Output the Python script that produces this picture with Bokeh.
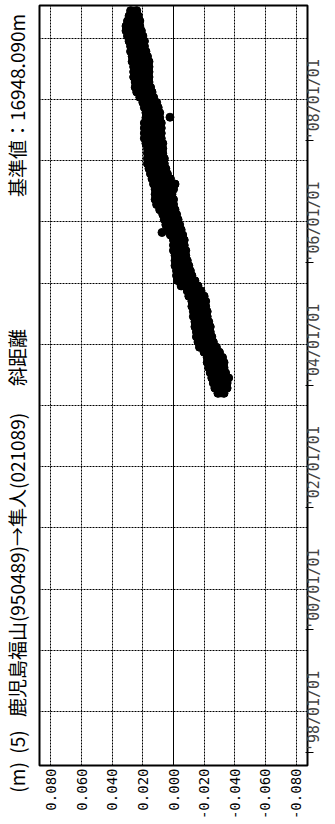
import math
import pandas as pd
from bokeh.plotting import figure
from bokeh.models import Range1d, FixedTicker, NumeralTickFormatter, Span, LinearAxis, ColumnDataSource
from bokeh.embed import file_html
from bokeh.resources import INLINE

# ---- data (slope distance change, mm, monthly envelope) ----
months = pd.period_range("2003-03", "2009-06", freq="M")
dates = months.to_timestamp() + pd.Timedelta(days=14)

hi_mm = [
    -29, -27, -26, -25, -24, -23, -22, -22, -20, -17,                 # 2003 Mar-Dec
    -16, -15, -15, -14, -14, -13, -13, -12, -12, -10, -9, -5,         # 2004
    -3, -2, -2, -1, -1, -1, 0, 0, 0, 2, 4, 5,                          # 2005
    6, 7, 9, 11, 12, 12, 12, 13, 14, 15, 16, 17,                       # 2006
    17, 17, 17, 18, 19, 19, 19, 19, 18, 18, 19, 20,                    # 2007
    22, 24, 25, 25, 26, 26, 26, 27, 27, 28, 28, 29,                    # 2008
    30, 31, 31, 30, 29, 28,                                            # 2009 Jan-Jun
]
lo_mm = [
    -33, -35, -35, -36, -34, -33, -33, -32, -30, -28,
    -26, -25, -24, -24, -23, -22, -22, -21, -21, -20, -18, -16,
    -14, -12, -11, -10, -9, -8, -8, -7, -7, -6, -5, -4,
    -3, -2, -1, 0, 0, 1, 0, -1, 2, 4, 5, 6,
    6, 7, 7, 7, 8, 8, 8, 8, 9, 9, 10, 11,
    13, 14, 15, 16, 16, 16, 16, 16, 17, 18, 19, 19,
    20, 21, 22, 22, 23, 24,
]
out_dates = pd.to_datetime(["2007-09-18", "2005-10-30"])
out_mm = [2.3, 7.5]

value_ticks = [0.08, 0.06, 0.04, 0.02, 0.0, -0.02, -0.04, -0.06, -0.08]
grid_years = list(range(1998, 2010))
label_years = [1998, 2000, 2002, 2004, 2006, 2008]
label_texts = ["'98/01/01", "'00/01/01", "'02/01/01", "'04/01/01", "'06/01/01", "'08/01/01"]

NB = "\u00a0"
title_parts = [f"(m){NB}{NB}(5)", "鹿児島福山(950489)→隼人(021089)", "斜距離", "基準値：16948.090m"]
title_centers = ["1997-03-08", "2000-05-24", "2003-10-14", "2007-11-27"]

# rotated date labels start at their anchor; shift anchor so each label is centred on its year line
DATE_LABEL_SHIFT = pd.Timedelta(days=243)


def ms(d):
    return pd.Timestamp(d).timestamp() * 1000.0


src = ColumnDataSource(dict(
    t=dates,
    hi=[v / 1000.0 for v in hi_mm],
    lo=[v / 1000.0 for v in lo_mm],
))
src_out = ColumnDataSource(dict(t=out_dates, v=[v / 1000.0 for v in out_mm]))

p = figure(width=335, height=824,
           x_range=Range1d(0.0875, -0.0875),
           y_range=Range1d(ms("1997-02-12"), ms("2009-07-16")),
           y_axis_type="datetime", y_axis_location="right",
           output_backend="svg", toolbar_location=None,
           min_border_left=37, min_border_right=0, min_border_top=5, min_border_bottom=59,
           background_fill_color="white", border_fill_color="white")

p.outline_line_color = "black"
p.outline_line_width = 2

# grids
p.xgrid.ticker = FixedTicker(ticks=[v for v in value_ticks if v != 0.0])
p.ygrid.ticker = FixedTicker(ticks=[ms(f"{y}-01-01") for y in grid_years])
for g in (p.xgrid, p.ygrid):
    g.grid_line_color = "black"
    g.grid_line_dash = "2 1"
    g.grid_line_width = 1
    g.grid_line_alpha = 1.0

p.add_layout(Span(location=0, dimension="height", line_color="black", line_width=1))

# axes
p.xaxis.ticker = FixedTicker(ticks=value_ticks)
p.xaxis.formatter = NumeralTickFormatter(format="0.000")
p.xaxis.major_label_orientation = math.pi / 2
p.xaxis.major_label_text_font = "DejaVu Sans Mono"
p.xaxis.major_label_text_font_size = "14px"
p.xaxis.major_label_standoff = 3

date_anchor = [ms(pd.Timestamp(f"{y}-01-01") - DATE_LABEL_SHIFT) for y in label_years]
p.yaxis.ticker = FixedTicker(ticks=date_anchor)
p.yaxis.major_label_overrides = {a: s for a, s in zip(date_anchor, label_texts)}
p.yaxis.major_label_orientation = math.pi / 2
p.yaxis.major_label_text_font = "DejaVu Sans Mono"
p.yaxis.major_label_text_font_size = "15px"
p.yaxis.major_label_standoff = 1

# rotated title pieces, carried by a label-only axis on the left
title_axis = LinearAxis(
    ticker=FixedTicker(ticks=[ms(d) for d in title_centers]),
    major_label_overrides={ms(d): t for d, t in zip(title_centers, title_parts)},
    major_label_orientation="parallel",
    major_label_text_font="Noto Sans CJK JP",
    major_label_text_font_size="19px",
    major_label_standoff=9,
)
p.add_layout(title_axis, "left")

for ax in (p.xaxis[0], p.yaxis[0], title_axis):
    ax.axis_line_color = None
    ax.major_tick_out = 0
    ax.major_tick_in = 0
    ax.minor_tick_out = 0
    ax.minor_tick_in = 0
    ax.major_label_text_color = "black"

# data
p.segment(x0="hi", y0="t", x1="lo", y1="t", source=src,
          line_color="black", line_width=8, line_cap="round")
p.scatter(x="hi", y="t", source=src, size=8, color="black")
p.scatter(x="lo", y="t", source=src, size=8, color="black")
p.scatter(x="v", y="t", source=src_out, size=8, color="black")

open("out.html", "w").write(file_html(p, INLINE))
